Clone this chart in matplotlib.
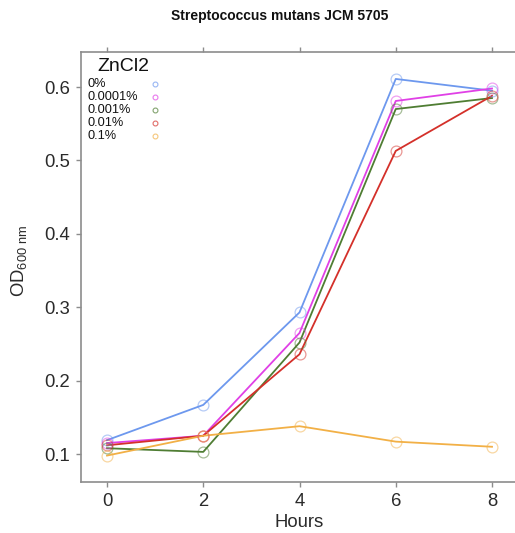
import matplotlib
matplotlib.use("Agg")
import matplotlib.pyplot as plt

hours = [0, 2, 4, 6, 8]
labels = ["0%", "0.0001%", "0.001%", "0.01%", "0.1%"]
od_0 = [0.119, 0.167, 0.293, 0.611, 0.595]
od_00001 = [0.115, 0.125, 0.265, 0.581, 0.598]
od_0001 = [0.108, 0.103, 0.252, 0.570, 0.585]
od_001 = [0.112, 0.125, 0.236, 0.513, 0.588]
od_01 = [0.098, 0.125, 0.138, 0.117, 0.110]
series = [od_0, od_00001, od_0001, od_001, od_01]
colors = ["#6D98EE", "#E040E6", "#4F7D33", "#D4302A", "#F2B046"]
yticks = [0.1, 0.2, 0.3, 0.4, 0.5, 0.6]
xticks = [0, 2, 4, 6, 8]

plt.rcParams['font.family'] = ['Liberation Sans', 'DejaVu Sans']
plt.rcParams['mathtext.default'] = 'regular'

fig = plt.figure(figsize=(5.15, 5.33), dpi=100)
ax = fig.add_axes([81/515, 51/533, 437/515, 430/533])

for vals, c in zip(series, colors):
    ax.plot(hours, vals, color=c, lw=1.3, zorder=2)
    ax.plot(hours, vals, ls='none', marker='o', ms=7.8, mfc='none',
            mec=c, mew=0.9, alpha=0.5, zorder=3)

ax.set_xlim(-0.54, 8.54)
ax.set_ylim(0.062, 0.6477)
ax.set_xticks(xticks)
ax.set_xticklabels([str(t) for t in xticks])
ax.set_yticks(yticks)
ax.set_yticklabels([f"{t:.1f}" for t in yticks])

gray = "#8c8c8c"
for s in ['left', 'bottom', 'top']:
    ax.spines[s].set_color(gray)
    ax.spines[s].set_linewidth(1.2)
ax.spines['right'].set_visible(False)
ax.tick_params(axis='both', direction='out', length=3.8, width=1.0,
               color=gray, labelcolor='#2a2a2a', labelsize=13.3, pad=4.2)
ax.tick_params(axis='x', top=True)

ax.set_xlabel("Hours", fontsize=13.3, color='#2a2a2a')
ax.xaxis.set_label_coords(0.5, -0.075)
ax.xaxis.label.set_va('top')
ax.set_ylabel(r"OD$_{600\ nm}$", fontsize=13.3, color='#2a2a2a')
ax.yaxis.set_label_coords(-0.118, 0.515)

fig.text(280/515, 1 - 16/533, "Streptococcus mutans JCM 5705",
         ha='center', va='center', fontsize=10, fontweight='bold', color='#111111')

# legend
ax.text(0.037, 0.967, "ZnCl2", transform=ax.transAxes, fontsize=14,
        ha='left', va='center', color='#111111')
ys = [0.9256, 0.8953, 0.865, 0.8349, 0.8047]
for lab, c, yy in zip(labels, colors, ys):
    ax.text(0.0144, yy, lab, transform=ax.transAxes, fontsize=9.2,
            ha='left', va='center', color='#111111')
    ax.plot([0.169], [yy], transform=ax.transAxes, ls='none', marker='o',
            ms=3.5, mfc='none', mec=c, mew=0.8, alpha=0.7, clip_on=False)

fig.savefig("out.png", dpi=100)
